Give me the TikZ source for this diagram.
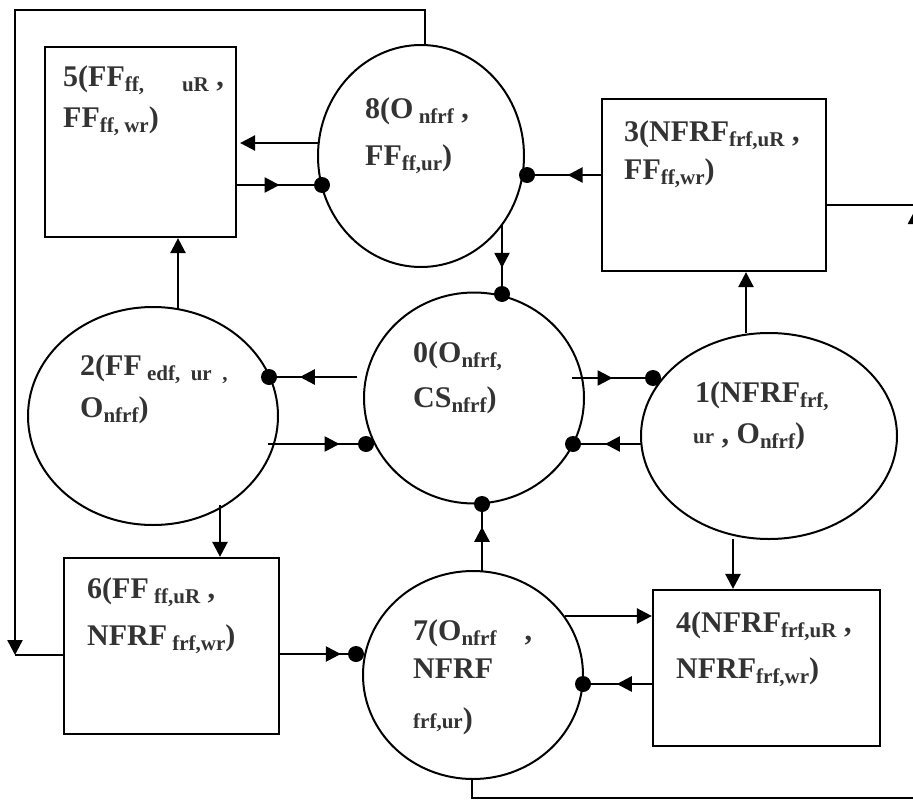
\documentclass[tikz,border=0pt]{standalone}
\usepackage{fontspec}
\setmainfont{Liberation Serif}
\usetikzlibrary{arrows.meta,shapes.geometric,decorations.markings}
\newcommand{\sbs}[1]{\raisebox{-5pt}{\fontsize{21}{21}\selectfont #1}}
\newcommand{\sml}[1]{{\fontsize{21}{21}\selectfont #1}}
\begin{document}
\begin{tikzpicture}[x=1pt,y=-1pt,
  box/.style={draw, line width=2.2pt, inner sep=0pt},
  ell/.style={draw, ellipse, line width=2pt, inner sep=0pt},
  conn/.style={line width=2.5pt},
  tip/.style={-{Triangle[length=15pt,width=15pt]}},
  midtip/.style={postaction={decorate}, decoration={markings, mark=at position #1 with {\arrow{Triangle[length=15pt,width=15pt]}}}},
  dot/.style={circle, fill=black, inner sep=0pt, minimum size=16pt},
  lbl/.style={anchor=base west, inner sep=0pt, text=black!80, font=\fontsize{30}{30}\selectfont\bfseries},
]
\useasboundingbox (0,0) rectangle (913,800);
\clip (0,0) rectangle (913,800);
\fill[white] (0,0) rectangle (913,800);

% shapes
\node[box, minimum width=191pt, minimum height=190pt] (b5) at (140.5,142) {};
\node[box, minimum width=224pt, minimum height=172pt] (b3) at (714,185) {};
\node[box, minimum width=215pt, minimum height=176pt] (b6) at (171.5,646) {};
\node[box, minimum width=227pt, minimum height=156pt] (b4) at (766.5,668) {};
\node[ell, minimum width=206pt, minimum height=222pt] (c8) at (421,156) {};
\node[ell, minimum width=220pt, minimum height=211pt] (c0) at (474,398) {};
\node[ell, minimum width=250pt, minimum height=218pt] (c2) at (153,416) {};
\node[ell, minimum width=256pt, minimum height=206pt] (c1) at (769,436) {};
\node[ell, minimum width=220pt, minimum height=208pt] (c7) at (473,675) {};

% coordinates
\coordinate (L1) at (425,10);
\coordinate (L2) at (15,10);
\coordinate (L3) at (15,655);
\coordinate (B1) at (472,798);
\coordinate (B2) at (915.5,798);
\coordinate (B3) at (915.5,209);
\coordinate (R1) at (925,205);
\coordinate (p1) at (319,143);
\coordinate (p4) at (502,225);
\coordinate (p5) at (178,309);
\coordinate (p6) at (357,377);
\coordinate (p7) at (268,444);
\coordinate (p8) at (572,378);
\coordinate (p9) at (641,444);
\coordinate (p10) at (746,333);
\coordinate (p11) at (733,539);
\coordinate (p12) at (565,616);
\coordinate (p14) at (482,571);
\coordinate (p15) at (220,505);

% connectors
\draw[conn, tip] (L1 |- c8.north) -- (L1) -- (L2) -- (L3);
\draw[conn] (L3) -- (L3 -| b6.west);
\draw[conn, tip] (B1 |- c7.south) -- (B1) -- (B2) -- (B3);
\draw[conn] (b3.east |- R1) -- (R1);

\draw[conn, tip, shorten >=3pt] (p1) -- (p1 -| b5.east);
\draw[conn, midtip=0.5] (b5.east |- 0,185) -- (322,185) coordinate (q2);
\draw[conn, midtip=0.45] (b3.west |- 0,175) -- (527,175) coordinate (q3);
\draw[conn, midtip=0.62] (p4) -- (502,294) coordinate (q4);
\draw[conn, tip] (p5) -- (p5 |- b5.south);
\draw[conn, midtip=0.65] (p6) -- (269,377) coordinate (q6);
\draw[conn, midtip=0.73] (p7) -- (366,444) coordinate (q7);
\draw[conn, midtip=0.5] (p8) -- (653,378) coordinate (q8);
\draw[conn, midtip=0.53] (p9) -- (573,444) coordinate (q9);
\draw[conn, tip] (p10) -- (p10 |- b3.south);
\draw[conn, tip] (p11) -- (p11 |- b4.north);
\draw[conn, tip] (p12) -- (p12 -| b4.west);
\draw[conn, midtip=0.51] (b4.west |- 0,684) -- (583,684) coordinate (q13);
\draw[conn, midtip=0.66] (p14) -- (482,504) coordinate (q14);
\draw[conn, tip] (p15) -- (p15 |- b6.north);
\draw[conn, midtip=0.8] (b6.east |- 0,654) -- (356,654) coordinate (q16);

% dots
\foreach \q in {q2,q3,q4,q6,q7,q8,q9,q13,q14,q16}
  \node[dot] (dot\q) at (\q) {};

% labels
\node[lbl] (t5a) at (63,87) {5(FF\sbs{ff,\hspace{38pt}uR}~,};
\node[lbl] (t5b) at (63,127) {FF\sbs{ff, wr})};
\node[lbl] (t8a) at (365,118) {8(O\sbs{~nfrf}~,};
\node[lbl] (t8b) at (365,165) {FF\sbs{ff,ur})};
\node[lbl] (t3a) at (624,141) {3(NFRF\sbs{frf,uR}~,};
\node[lbl] (t3b) at (624,179) {FF\sbs{ff,wr})};
\node[lbl] (t0a) at (413,362) {0(O\sbs{nfrf,}};
\node[lbl] (t0b) at (413,407) {CS\sbs{nfrf})};
\node[lbl] (t2a) at (80,375) {2(FF\sbs{~edf,~ ur~ ,}};
\node[lbl] (t2b) at (80,417) {O\sbs{nfrf})};
\node[lbl] (t1a) at (695,402) {1(NFRF\sbs{frf,}};
\node[lbl] (t1b) at (693,443) {\sml{ur}~, O\sbs{nfrf})};
\node[lbl] (t4a) at (676,632) {4(NFRF\sbs{frf,uR}~,};
\node[lbl] (t4b) at (676,678) {NFRF\sbs{frf,wr})};
\node[lbl] (t6a) at (87,598) {6(FF\sbs{~ff,uR}~,};
\node[lbl] (t6b) at (87,645) {NFRF\sbs{~frf,wr})};
\node[lbl] (t7a) at (413,640) {7(O\sbs{nfrf}\hspace{28pt},};
\node[lbl] (t7b) at (413,678) {NFRF};
\node[lbl] (t7c) at (413,728) {\sml{frf,ur})};
\end{tikzpicture}
\end{document}
